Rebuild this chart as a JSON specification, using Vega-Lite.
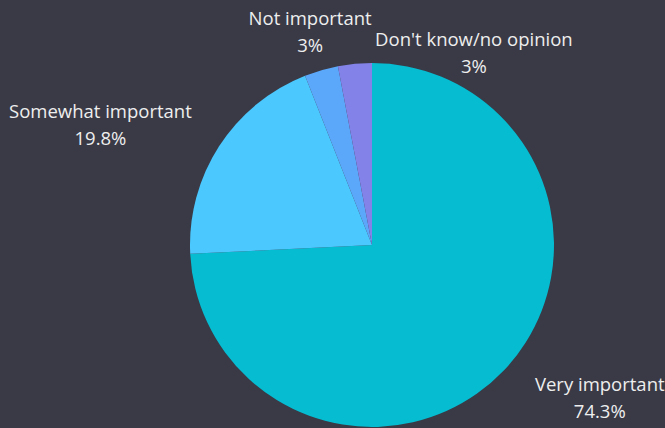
{
  "$schema": "https://vega.github.io/schema/vega-lite/v6.json",
  "width": 744,
  "height": 490,
  "autosize": {"type": "none"},
  "padding": 0,
  "background": "#393a46",
  "config": {"view": {"stroke": null}},
  "data": {"values": [
    {"name": "Very important", "pct": 0.743, "rank": 1},
    {"name": "Somewhat important", "pct": 0.198, "rank": 2},
    {"name": "Not important", "pct": 0.03, "rank": 3},
    {"name": "Don't know/no opinion", "pct": 0.03, "rank": 4}
  ]},
  "encoding": {
    "theta": {"field": "pct", "type": "quantitative", "stack": true},
    "order": {"field": "rank", "type": "quantitative"}
  },
  "layer": [
    {
      "mark": {"type": "arc", "radius": 182},
      "encoding": {
        "color": {"field": "name", "type": "nominal", "legend": null,
          "scale": {"domain": ["Very important", "Somewhat important", "Not important", "Don't know/no opinion"],
                    "range": ["#06bcd1", "#4bc8fe", "#5ba8fb", "#8282e8"]}}
      }
    },
    {"mark": {"type": "text", "radius": 222, "dx": 67, "dy": -13, "font": "Open Sans", "fontSize": 18.5, "fill": "#eeeeee"},
     "encoding": {"text": {"condition": {"test": "datum.name === 'Very important'", "field": "name"}, "value": ""}}},
    {"mark": {"type": "text", "radius": 222, "dx": 67, "dy": 14, "font": "Open Sans", "fontSize": 18.5, "fill": "#eeeeee"},
     "encoding": {"text": {"condition": {"test": "datum.name === 'Very important'", "field": "pct", "format": ".1~%"}, "value": ""}}},
    {"mark": {"type": "text", "radius": 222, "dx": -85, "dy": -13, "font": "Open Sans", "fontSize": 18.5, "fill": "#eeeeee"},
     "encoding": {"text": {"condition": {"test": "datum.name === 'Somewhat important'", "field": "name"}, "value": ""}}},
    {"mark": {"type": "text", "radius": 222, "dx": -85, "dy": 14, "font": "Open Sans", "fontSize": 18.5, "fill": "#eeeeee"},
     "encoding": {"text": {"condition": {"test": "datum.name === 'Somewhat important'", "field": "pct", "format": ".1~%"}, "value": ""}}},
    {"mark": {"type": "text", "radius": 222, "dx": 0, "dy": -13, "font": "Open Sans", "fontSize": 18.5, "fill": "#eeeeee"},
     "encoding": {"text": {"condition": {"test": "datum.name === 'Not important'", "field": "name"}, "value": ""}}},
    {"mark": {"type": "text", "radius": 222, "dx": 0, "dy": 14, "font": "Open Sans", "fontSize": 18.5, "fill": "#eeeeee"},
     "encoding": {"text": {"condition": {"test": "datum.name === 'Not important'", "field": "pct", "format": ".1~%"}, "value": ""}}},
    {"mark": {"type": "text", "radius": 193, "dx": 120, "dy": -13, "font": "Open Sans", "fontSize": 18.5, "fill": "#eeeeee"},
     "encoding": {"text": {"condition": {"test": "datum.name === \"Don't know/no opinion\"", "field": "name"}, "value": ""}}},
    {"mark": {"type": "text", "radius": 193, "dx": 120, "dy": 14, "font": "Open Sans", "fontSize": 18.5, "fill": "#eeeeee"},
     "encoding": {"text": {"condition": {"test": "datum.name === \"Don't know/no opinion\"", "field": "pct", "format": ".1~%"}, "value": ""}}}
  ]
}
